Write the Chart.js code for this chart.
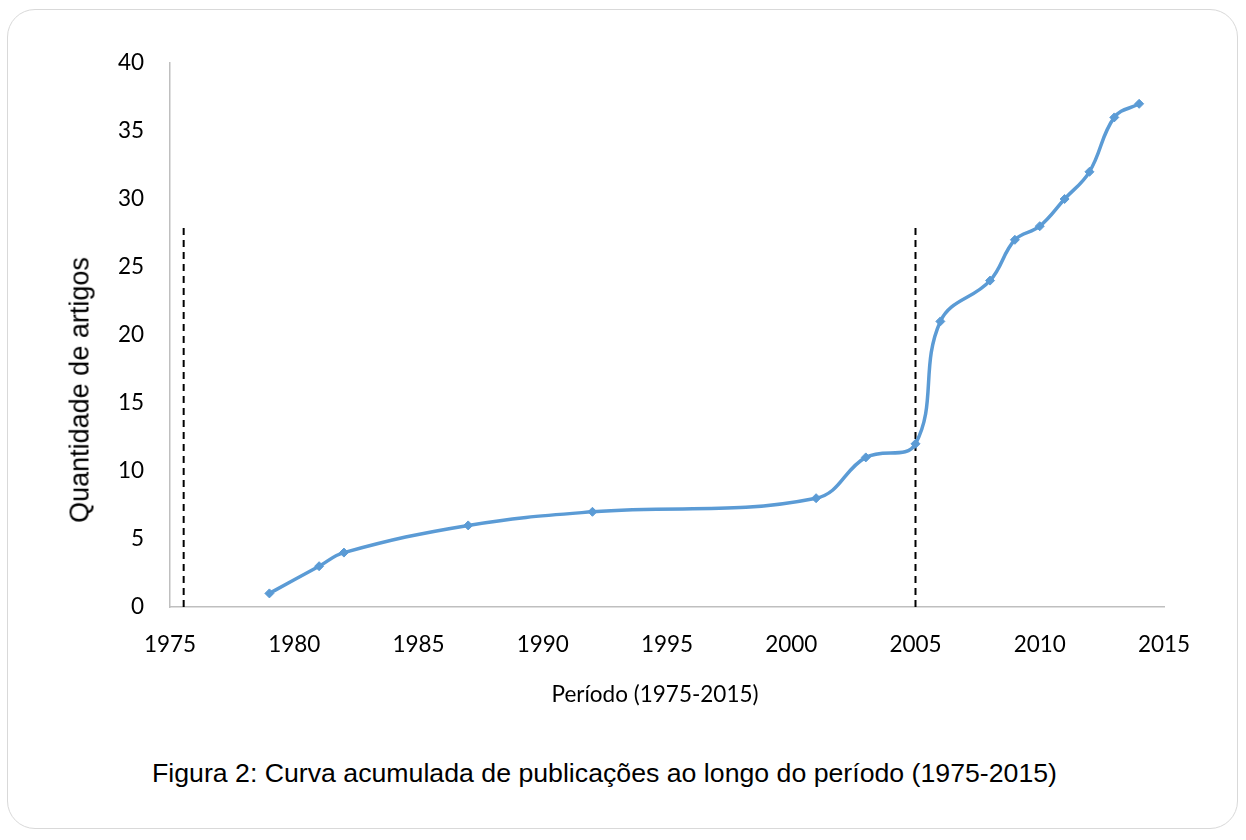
<!DOCTYPE html>
<html>
<head>
<meta charset="utf-8">
<script src="https://cdn.jsdelivr.net/npm/chart.js@4.4.1/dist/chart.umd.min.js"></script>
<style>
  html, body { margin: 0; padding: 0; background: #ffffff; }
  #page { position: relative; width: 1246px; height: 840px; overflow: hidden; background: #fff; }
  #frame { position: absolute; left: 7px; top: 9px; width: 1231px; height: 820px;
           border: 1.5px solid #d9d9d9; border-radius: 28px; box-sizing: border-box; }
  #chartWrap { position: absolute; left: 0; top: 0; width: 1246px; height: 740px; }
  #ytitle { position: absolute; left: 80px; top: 390px; transform: translate(-50%, -50%) rotate(-90deg);
            font-family: "Liberation Sans", Arial, sans-serif; font-size: 27px; line-height: 27px;
            white-space: nowrap; color: #000; }
  #xtitle { position: absolute; left: 655px; top: 680px; transform: translateX(-50%);
            font-family: Lato, "Open Sans", sans-serif; font-size: 22.5px; line-height: 27px;
            white-space: nowrap; color: #000; }
  #caption { position: absolute; left: 152px; top: 758px;
             font-family: "Liberation Sans", Arial, sans-serif; font-size: 26.7px; line-height: 30px;
             white-space: nowrap; color: #000; }
</style>
</head>
<body>
<div id="page">
  <div id="frame"></div>
  <div id="chartWrap"><canvas id="c" width="1246" height="740"></canvas></div>
  <div id="ytitle">Quantidade de artigos</div>
  <div id="xtitle">Período (1975-2015)</div>
  <div id="caption">Figura 2: Curva acumulada de publicações ao longo do período (1975-2015)</div>
</div>
<script>
// ---- data ----
const years    = [1979, 1981, 1982, 1987, 1992, 2001, 2003, 2005, 2006, 2008, 2009, 2010, 2011, 2012, 2013, 2014];
const articles = [1,    3,    4,    6,    7,    8,    11,   12,   21,   24,   27,   28,   30,   32,   36,   37];
const dividerYears = [1975.55, 2005];
const dividerTop   = 28.2;
const xMin = 1975, xMax = 2015, xStep = 5;
const yMin = 0, yMax = 40, yStep = 5;

const seriesPoints = years.map((yr, i) => ({ x: yr, y: articles[i] }));
const dividerSets = dividerYears.map(yr => ({
  data: [{ x: yr, y: 0 }, { x: yr, y: dividerTop }],
  borderColor: '#000000',
  borderWidth: 2,
  borderDash: [7, 5],
  pointRadius: 0,
  tension: 0,
  fill: false
}));

const tickFont = { family: 'Lato, "Open Sans", sans-serif', size: 22.5 };

new Chart(document.getElementById('c'), {
  type: 'line',
  data: {
    datasets: [
      {
        data: seriesPoints,
        borderColor: '#5B9BD5',
        backgroundColor: '#5B9BD5',
        borderWidth: 3.5,
        tension: 0.4,
        pointStyle: 'rectRot',
        pointRadius: 4.5,
        pointBorderWidth: 1,
        pointBorderColor: '#5B9BD5',
        pointBackgroundColor: '#5B9BD5',
        fill: false
      },
      ...dividerSets
    ]
  },
  options: {
    responsive: false,
    devicePixelRatio: 1,
    animation: false,
    layout: { padding: { left: 0, top: 63, right: 82, bottom: 33 } },
    plugins: { legend: { display: false }, tooltip: { enabled: false } },
    scales: {
      x: {
        type: 'linear',
        min: xMin, max: xMax,
        ticks: { stepSize: xStep, color: '#000', font: tickFont, padding: 24,
                 callback: v => String(v), maxRotation: 0 },
        grid: { display: false, drawTicks: false },
        border: { display: true, color: '#bfbfbf', width: 1.5 },
        afterFit: s => { s.height = 100; }
      },
      y: {
        min: yMin, max: yMax,
        ticks: { stepSize: yStep, color: '#000', font: tickFont, padding: 26 },
        grid: { display: false, drawTicks: false },
        border: { display: true, color: '#bfbfbf', width: 1.5 },
        afterFit: s => { s.width = 170; }
      }
    }
  }
});
</script>
</body>
</html>
